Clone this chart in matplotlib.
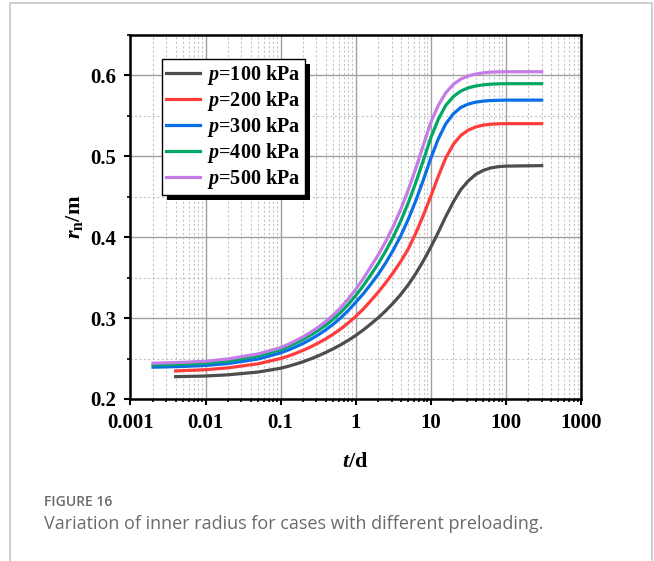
import matplotlib
matplotlib.use('Agg')
import matplotlib.pyplot as plt
from matplotlib.patches import Rectangle
from matplotlib.ticker import FixedLocator, LogLocator, MultipleLocator, NullFormatter

# time (d); p=300/400/500 start at 0.002, p=100/200 at 0.004
t_mid = [0.1, 0.126, 0.158, 0.2, 0.251, 0.316, 0.398, 0.501, 0.631, 0.794,
         1, 1.26, 1.58, 2, 2.51, 3.16, 3.98, 5.01, 6.31, 7.94,
         10, 12.6, 15.8, 20, 25.1, 31.6, 39.8, 50.1, 63.1, 79.4, 100]
t_a = [0.002, 0.005, 0.01, 0.02, 0.05] + t_mid + [300]
t_b = [0.004, 0.01, 0.02, 0.05] + t_mid + [300]

# inner radius r_n (m)
r_100 = [0.2276, 0.2284, 0.2299, 0.2333,
         0.2380, 0.2404, 0.2431, 0.2461, 0.2495, 0.2533, 0.2575, 0.2620, 0.2670, 0.2725,
         0.2785, 0.2853, 0.2926, 0.3005, 0.3091, 0.3186, 0.3292, 0.3412, 0.3550, 0.3705,
         0.3877, 0.4062, 0.4254, 0.4437, 0.4589, 0.4697, 0.4777, 0.4827, 0.4857, 0.4872,
         0.4879, 0.4885]
r_200 = [0.2347, 0.2362, 0.2385, 0.2435,
         0.2500, 0.2530, 0.2564, 0.2602, 0.2644, 0.2691, 0.2743, 0.2801, 0.2866, 0.2939,
         0.3021, 0.3112, 0.3212, 0.3322, 0.3437, 0.3562, 0.3700, 0.3855, 0.4050, 0.4268,
         0.4506, 0.4754, 0.4979, 0.5149, 0.5259, 0.5324, 0.5364, 0.5386, 0.5397, 0.5402,
         0.5404, 0.5404]
r_300 = [0.2393, 0.2402, 0.2415, 0.2438, 0.2494,
         0.2570, 0.2605, 0.2644, 0.2688, 0.2737, 0.2792, 0.2854, 0.2924, 0.3003, 0.3093,
         0.3195, 0.3300, 0.3416, 0.3543, 0.3683, 0.3840, 0.4018, 0.4221, 0.4451, 0.4706,
         0.4976, 0.5216, 0.5401, 0.5526, 0.5604, 0.5647, 0.5670, 0.5683, 0.5690, 0.5693,
         0.5695, 0.5695]
r_400 = [0.2420, 0.2430, 0.2444, 0.2470, 0.2532,
         0.2610, 0.2648, 0.2690, 0.2737, 0.2789, 0.2847, 0.2912, 0.2986, 0.3071, 0.3168,
         0.3278, 0.3400, 0.3532, 0.3674, 0.3829, 0.4002, 0.4200, 0.4425, 0.4675, 0.4947,
         0.5229, 0.5459, 0.5629, 0.5739, 0.5807, 0.5847, 0.5870, 0.5884, 0.5892, 0.5896,
         0.5898, 0.5898]
r_500 = [0.2442, 0.2453, 0.2467, 0.2495, 0.2557,
         0.2635, 0.2675, 0.2720, 0.2770, 0.2825, 0.2887, 0.2957, 0.3037, 0.3129, 0.3235,
         0.3355, 0.3488, 0.3631, 0.3783, 0.3948, 0.4133, 0.4345, 0.4585, 0.4850, 0.5135,
         0.5420, 0.5630, 0.5785, 0.5890, 0.5955, 0.5993, 0.6018, 0.6033, 0.6041, 0.6045,
         0.6046, 0.6046]

labels = ['100', '200', '300', '400', '500']
colors = ['#4d4d4d', '#ff3c3c', '#0a6ee6', '#00a865', '#c47de6']

x_ticks = [0.001, 0.01, 0.1, 1, 10, 100, 1000]
x_ticklabels = ['0.001', '0.01', '0.1', '1', '10', '100', '1000']
y_ticks = [0.2, 0.3, 0.4, 0.5, 0.6]
y_ticklabels = ['0.2', '0.3', '0.4', '0.5', '0.6']

plt.rcParams['font.family'] = ['Liberation Serif', 'DejaVu Serif']
plt.rcParams['font.weight'] = 'bold'
plt.rcParams['mathtext.fontset'] = 'custom'
plt.rcParams['mathtext.rm'] = 'Liberation Serif:bold'
plt.rcParams['mathtext.it'] = 'Liberation Serif:italic:bold'
plt.rcParams['mathtext.bf'] = 'Liberation Serif:bold'

fig = plt.figure(figsize=(6.54, 5.61), dpi=100)
ax = fig.add_axes([0.1995, 0.2888, 0.6888, 0.6488])

series = [(t_b, r_100), (t_b, r_200), (t_a, r_300), (t_a, r_400), (t_a, r_500)]
for (t, r), lab, c in zip(series, labels, colors):
    ax.plot(t, r, color=c, lw=2.3, label='$p$=' + lab + ' kPa', zorder=3,
            solid_joinstyle='round')

ax.set_xscale('log')
ax.set_xlim(0.001, 1000)
ax.set_ylim(0.2, 0.65)

ax.xaxis.set_major_locator(FixedLocator(x_ticks))
ax.set_xticklabels(x_ticklabels)
ax.xaxis.set_minor_locator(LogLocator(base=10, subs=range(2, 10), numticks=20))
ax.xaxis.set_minor_formatter(NullFormatter())
ax.yaxis.set_major_locator(FixedLocator(y_ticks))
ax.set_yticklabels(y_ticklabels)
ax.yaxis.set_minor_locator(MultipleLocator(0.05))

ax.grid(which='major', color='#a0a0a0', lw=1.0, ls='-', zorder=1)
ax.grid(which='minor', color='#c4c4c4', lw=0.8, ls=(0, (2, 2)), zorder=1)
ax.set_axisbelow(True)

for s in ax.spines.values():
    s.set_linewidth(1.8)
ax.tick_params(which='major', direction='out', length=4, width=1.5, labelsize=15, pad=6)
ax.tick_params(which='minor', direction='out', length=2.5, width=1.2)

ax.set_xlabel('$t$/d', fontsize=16, fontweight='bold', labelpad=14)
ax.set_ylabel('$r_{\\mathrm{n}}$/m', fontsize=16, fontweight='bold', labelpad=4)

leg = ax.legend(loc='upper left', bbox_to_anchor=(0.07, 0.935), frameon=True, fancybox=False,
                edgecolor='black', framealpha=1, fontsize=14.5, handlelength=1.7,
                handletextpad=0.35, labelspacing=0.1, borderpad=0.2, borderaxespad=0)
leg.get_frame().set_linewidth(1.0)
leg.set_zorder(6)

# offset black shadow behind the legend box
fig.canvas.draw()
bb = leg.get_window_extent()
shadow = Rectangle((bb.x0 + 5, bb.y0 - 5), bb.width, bb.height, transform=None,
                   facecolor='black', edgecolor='none', zorder=5.5, clip_on=False)
ax.add_artist(shadow)

# outer frame and caption
fig.add_artist(Rectangle((10 / 654, -0.05), 642 / 654, 1.045, transform=fig.transFigure,
                         fill=False, edgecolor='#c8c8c8', lw=1.2))
fig.text(44 / 654, 1 - 502 / 561, 'FIGURE 16', family='Open Sans', fontweight='semibold',
         fontsize=10, color='#6a6a6a', va='center')
fig.text(44 / 654, 1 - 524 / 561, 'Variation of inner radius for cases with different preloading.',
         family='Open Sans', fontweight='normal', fontsize=13.0, color='#6a6a6a', va='center')

fig.savefig('out.png', dpi=100)
